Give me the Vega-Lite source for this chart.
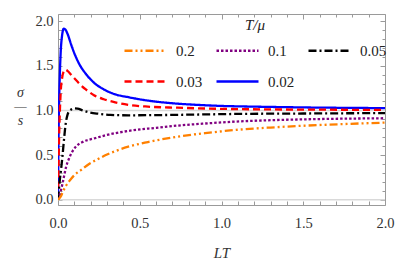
{
  "$schema": "https://vega.github.io/schema/vega-lite/v6.json",
  "width": 327,
  "height": 191,
  "autosize": {"type": "none"},
  "padding": {"left": 58, "top": 14, "right": 14, "bottom": 70},
  "background": "white",
  "config": {
    "view": {"stroke": "#9a9a9a", "strokeWidth": 1},
    "axis": {"domain": false, "grid": false, "tickColor": "#9a9a9a", "labelFont": "Liberation Serif", "labelFontSize": 14.5, "labelColor": "#333", "titleFont": "Liberation Serif", "titleColor": "#333", "titleFontWeight": "normal"}
  },
  "datasets": {
    "curves": [
      {"c": "0.02", "x": 0, "y": 0}, {"c": "0.02", "x": 0.003, "y": 0.65}, {"c": "0.02", "x": 0.007, "y": 1.11}, {"c": "0.02", "x": 0.012, "y": 1.45}, {"c": "0.02", "x": 0.017, "y": 1.67}, {"c": "0.02", "x": 0.025, "y": 1.84}, {"c": "0.02", "x": 0.035, "y": 1.915}, {"c": "0.02", "x": 0.045, "y": 1.905}, {"c": "0.02", "x": 0.06, "y": 1.85}, {"c": "0.02", "x": 0.08, "y": 1.74}, {"c": "0.02", "x": 0.1, "y": 1.64}, {"c": "0.02", "x": 0.13, "y": 1.52}, {"c": "0.02", "x": 0.17, "y": 1.41}, {"c": "0.02", "x": 0.22, "y": 1.31}, {"c": "0.02", "x": 0.28, "y": 1.235}, {"c": "0.02", "x": 0.35, "y": 1.18}, {"c": "0.02", "x": 0.43, "y": 1.148}, {"c": "0.02", "x": 0.55, "y": 1.11}, {"c": "0.02", "x": 0.7, "y": 1.08}, {"c": "0.02", "x": 0.85, "y": 1.062}, {"c": "0.02", "x": 1.0, "y": 1.05}, {"c": "0.02", "x": 1.2, "y": 1.042}, {"c": "0.02", "x": 1.4, "y": 1.036}, {"c": "0.02", "x": 1.6, "y": 1.031}, {"c": "0.02", "x": 1.8, "y": 1.028}, {"c": "0.02", "x": 2.0, "y": 1.025},
      {"c": "0.03", "x": 0, "y": 0}, {"c": "0.03", "x": 0.004, "y": 0.45}, {"c": "0.03", "x": 0.008, "y": 0.8}, {"c": "0.03", "x": 0.012, "y": 1.02}, {"c": "0.03", "x": 0.017, "y": 1.22}, {"c": "0.03", "x": 0.025, "y": 1.36}, {"c": "0.03", "x": 0.035, "y": 1.435}, {"c": "0.03", "x": 0.047, "y": 1.455}, {"c": "0.03", "x": 0.06, "y": 1.44}, {"c": "0.03", "x": 0.08, "y": 1.4}, {"c": "0.03", "x": 0.1, "y": 1.36}, {"c": "0.03", "x": 0.13, "y": 1.3}, {"c": "0.03", "x": 0.17, "y": 1.235}, {"c": "0.03", "x": 0.22, "y": 1.17}, {"c": "0.03", "x": 0.28, "y": 1.125}, {"c": "0.03", "x": 0.35, "y": 1.09}, {"c": "0.03", "x": 0.43, "y": 1.062}, {"c": "0.03", "x": 0.55, "y": 1.042}, {"c": "0.03", "x": 0.73, "y": 1.03}, {"c": "0.03", "x": 0.9, "y": 1.021}, {"c": "0.03", "x": 1.08, "y": 1.015}, {"c": "0.03", "x": 1.3, "y": 1.011}, {"c": "0.03", "x": 1.6, "y": 1.008}, {"c": "0.03", "x": 2.0, "y": 1.006},
      {"c": "0.05", "x": 0, "y": 0}, {"c": "0.05", "x": 0.01, "y": 0.2}, {"c": "0.05", "x": 0.02, "y": 0.36}, {"c": "0.05", "x": 0.027, "y": 0.48}, {"c": "0.05", "x": 0.035, "y": 0.64}, {"c": "0.05", "x": 0.047, "y": 0.85}, {"c": "0.05", "x": 0.058, "y": 0.95}, {"c": "0.05", "x": 0.068, "y": 0.99}, {"c": "0.05", "x": 0.08, "y": 1.01}, {"c": "0.05", "x": 0.1, "y": 1.022}, {"c": "0.05", "x": 0.12, "y": 1.02}, {"c": "0.05", "x": 0.15, "y": 1.0}, {"c": "0.05", "x": 0.19, "y": 0.978}, {"c": "0.05", "x": 0.25, "y": 0.962}, {"c": "0.05", "x": 0.32, "y": 0.95}, {"c": "0.05", "x": 0.43, "y": 0.945}, {"c": "0.05", "x": 0.6, "y": 0.947}, {"c": "0.05", "x": 0.8, "y": 0.952}, {"c": "0.05", "x": 1.08, "y": 0.96}, {"c": "0.05", "x": 1.5, "y": 0.965}, {"c": "0.05", "x": 2.0, "y": 0.97},
      {"c": "0.1", "x": 0, "y": 0}, {"c": "0.1", "x": 0.01, "y": 0.05}, {"c": "0.1", "x": 0.02, "y": 0.12}, {"c": "0.1", "x": 0.03, "y": 0.2}, {"c": "0.1", "x": 0.04, "y": 0.29}, {"c": "0.1", "x": 0.05, "y": 0.37}, {"c": "0.1", "x": 0.065, "y": 0.45}, {"c": "0.1", "x": 0.088, "y": 0.54}, {"c": "0.1", "x": 0.11, "y": 0.595}, {"c": "0.1", "x": 0.15, "y": 0.645}, {"c": "0.1", "x": 0.225, "y": 0.688}, {"c": "0.1", "x": 0.3, "y": 0.725}, {"c": "0.1", "x": 0.43, "y": 0.77}, {"c": "0.1", "x": 0.6, "y": 0.805}, {"c": "0.1", "x": 0.734, "y": 0.83}, {"c": "0.1", "x": 0.9, "y": 0.853}, {"c": "0.1", "x": 1.08, "y": 0.874}, {"c": "0.1", "x": 1.3, "y": 0.89}, {"c": "0.1", "x": 1.6, "y": 0.903}, {"c": "0.1", "x": 2.0, "y": 0.912},
      {"c": "0.2", "x": 0, "y": 0}, {"c": "0.2", "x": 0.017, "y": 0.035}, {"c": "0.2", "x": 0.03, "y": 0.09}, {"c": "0.2", "x": 0.047, "y": 0.15}, {"c": "0.2", "x": 0.07, "y": 0.21}, {"c": "0.2", "x": 0.1, "y": 0.275}, {"c": "0.2", "x": 0.14, "y": 0.33}, {"c": "0.2", "x": 0.19, "y": 0.4}, {"c": "0.2", "x": 0.24, "y": 0.45}, {"c": "0.2", "x": 0.3, "y": 0.505}, {"c": "0.2", "x": 0.43, "y": 0.593}, {"c": "0.2", "x": 0.55, "y": 0.645}, {"c": "0.2", "x": 0.734, "y": 0.706}, {"c": "0.2", "x": 0.9, "y": 0.745}, {"c": "0.2", "x": 1.08, "y": 0.78}, {"c": "0.2", "x": 1.3, "y": 0.808}, {"c": "0.2", "x": 1.5, "y": 0.828}, {"c": "0.2", "x": 1.75, "y": 0.847}, {"c": "0.2", "x": 2.0, "y": 0.863}
    ],
    "guides": [{"g": 0}, {"g": 1}]
  },
  "layer": [
    {
      "data": {"name": "guides"},
      "mark": {"type": "rule", "color": "#d9d9d9", "strokeWidth": 1.5},
      "encoding": {"y": {"field": "g", "type": "quantitative", "axis": null}}
    },
    {
      "data": {"name": "curves"},
      "mark": {"type": "line", "strokeWidth": 2.3, "interpolate": "monotone", "clip": true},
      "encoding": {
        "x": {"field": "x", "type": "quantitative", "scale": {"domain": [0, 2], "nice": false, "zero": false},
          "axis": {"orient": "bottom", "title": "LT", "titleFontStyle": "italic", "titleFontSize": 15, "titleBaseline": "middle", "titleY": 47,
            "values": [0, 0.1, 0.2, 0.3, 0.4, 0.5, 0.6, 0.7, 0.8, 0.9, 1.0, 1.1, 1.2, 1.3, 1.4, 1.5, 1.6, 1.7, 1.8, 1.9, 2.0],
            "labelExpr": "abs(datum.value*2 - round(datum.value*2)) < 0.001 ? format(datum.value, '.1f') : ''",
            "tickSize": -4,
            "labelPadding": 15, "labelFlush": false, "labelOverlap": false}},
        "y": {"field": "y", "type": "quantitative", "scale": {"domain": [-0.06, 2.08], "nice": false, "zero": false},
          "axis": {"orient": "left", "title": ["σ", "—", "s"], "titleAngle": 0, "titleFontStyle": "italic", "titleFontSize": 14, "titleLineHeight": 14, "titleAlign": "center", "titleBaseline": "middle", "titleX": -38, "titleY": 78,
            "values": [0, 0.1, 0.2, 0.3, 0.4, 0.5, 0.6, 0.7, 0.8, 0.9, 1.0, 1.1, 1.2, 1.3, 1.4, 1.5, 1.6, 1.7, 1.8, 1.9, 2.0],
            "labelExpr": "abs(datum.value*2 - round(datum.value*2)) < 0.001 ? format(datum.value, '.1f') : ''",
            "tickSize": -4,
            "labelPadding": 9, "labelOverlap": false}},
        "color": {"field": "c", "type": "nominal",
          "scale": {"domain": ["0.2", "0.1", "0.05", "0.03", "0.02"], "range": ["#FF8000", "#800080", "#000000", "#FF0000", "#0000FF"]},
          "legend": {"orient": "none", "direction": "horizontal", "legendX": 65, "legendY": 4, "columns": 3, "title": "T/μ", "titleFontStyle": "italic", "titleFont": "Liberation Serif", "titleFontSize": 15, "titleFontWeight": "normal", "titleAnchor": "middle", "titleColor": "#222", "labelFont": "Liberation Serif", "labelFontSize": 15, "labelColor": "#222", "symbolType": "stroke", "symbolSize": 1764, "symbolStrokeWidth": 2.5, "labelOffset": 8, "columnPadding": 8, "rowPadding": -6, "titlePadding": -5, "padding": 0}},
        "strokeDash": {"field": "c", "type": "nominal",
          "scale": {"domain": ["0.2", "0.1", "0.05", "0.03", "0.02"], "range": [[8, 3, 2, 3, 2, 3], [2.5, 2], [8, 3, 2, 3], [7, 4], [1, 0]]},
          "legend": {"orient": "none", "direction": "horizontal", "legendX": 65, "legendY": 4, "columns": 3, "title": "T/μ", "titleFontStyle": "italic", "titleFont": "Liberation Serif", "titleFontSize": 15, "titleFontWeight": "normal", "titleAnchor": "middle", "titleColor": "#222", "labelFont": "Liberation Serif", "labelFontSize": 15, "labelColor": "#222", "symbolType": "stroke", "symbolSize": 1764, "symbolStrokeWidth": 2.5, "labelOffset": 8, "columnPadding": 8, "rowPadding": -6, "titlePadding": -5, "padding": 0}}
      }
    },
    {
      "data": {"name": "curves"},
      "mark": {"type": "point", "opacity": 0},
      "encoding": {
        "x": {"field": "x", "type": "quantitative",
          "axis": {"orient": "top", "title": null, "labels": false,
            "values": [0, 0.1, 0.2, 0.3, 0.4, 0.5, 0.6, 0.7, 0.8, 0.9, 1.0, 1.1, 1.2, 1.3, 1.4, 1.5, 1.6, 1.7, 1.8, 1.9, 2.0],
            "tickSize": {"condition": {"test": "abs(datum.value*2 - round(datum.value*2)) < 0.001", "value": -5}, "value": -3}}},
        "y": {"field": "y", "type": "quantitative",
          "axis": {"orient": "right", "title": null, "labels": false,
            "values": [0, 0.1, 0.2, 0.3, 0.4, 0.5, 0.6, 0.7, 0.8, 0.9, 1.0, 1.1, 1.2, 1.3, 1.4, 1.5, 1.6, 1.7, 1.8, 1.9, 2.0],
            "tickSize": {"condition": {"test": "abs(datum.value*2 - round(datum.value*2)) < 0.001", "value": -5}, "value": -3}}}
      }
    }
  ],
  "resolve": {"axis": {"x": "independent", "y": "independent"}}
}
